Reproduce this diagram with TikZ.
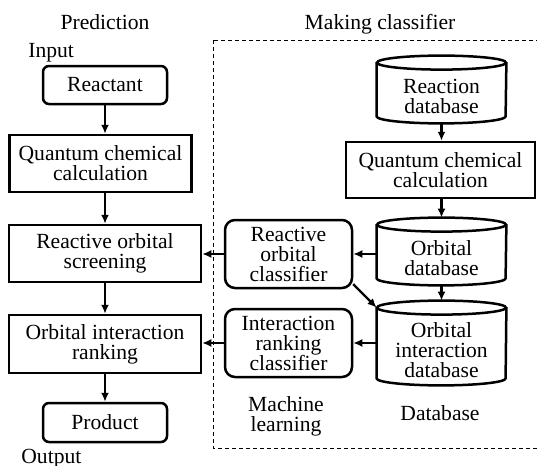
\documentclass[tikz,border=0pt]{standalone}
\usepackage{fontspec}
\setmainfont{Liberation Serif}[Ligatures=TeX]
\usetikzlibrary{arrows.meta}
\begin{document}
\begin{tikzpicture}[x=0.5pt,y=-0.5pt,
  every node/.style={font=\rmfamily\fontsize{10.8}{10}\selectfont, inner sep=0pt, align=center},
  sqbox/.style={draw, line width=1.25pt},
  rbox/.style={draw, line width=1.25pt, rounded corners=3pt},
  rrbox/.style={draw, line width=1.25pt, rounded corners=5pt},
  cylbody/.style={minimum width=64.5pt},
  cylline/.style={line width=1.25pt},
  arr/.style={line width=1.2pt, -{Latex[length=4.5pt,width=4pt]}},
  frame/.style={line width=0.5pt, dash pattern=on 2pt off 1.5pt}
]
\useasboundingbox (0,0) rectangle (537,466);
\clip (0,0) rectangle (537,466);

% dashed frame
\draw[frame] (213,40) rectangle (560,448);

% titles and labels
\node[anchor=base] (tpred) at (105,29) {Prediction};
\node[anchor=base] (tmake) at (380,29) {Making classifier};
\node[anchor=base west] (tin) at (28,57) {Input};
\node[anchor=base west] (tout) at (21,463) {Output};
\node (tml) at (286,416) {Machine\\learning};
\node[anchor=base] (tdb) at (440,420) {Database};

% left column
\node[rbox, minimum width=62pt, minimum height=19pt] (reac) at (105,85) {Reactant};
\node[sqbox, minimum width=91pt, minimum height=28.5pt] (qccl) at (100.5,163.5) {Quantum chemical\\calculation};
\node[sqbox, minimum width=96pt, minimum height=28.5pt] (scr) at (105,253.5) {Reactive orbital\\screening};
\node[sqbox, minimum width=96pt, minimum height=29pt] (rank) at (105,344) {Orbital interaction\\ranking};
\node[rbox, minimum width=62pt, minimum height=19.5pt] (prod) at (105,422.5) {Product};

% right column
\node[cylbody, minimum height=26.5pt] (rdb) at (441.5,96.5) {Reaction\\database};
\node[sqbox, minimum width=94.5pt, minimum height=28pt] (qccr) at (440.5,170) {Quantum chemical\\calculation};
\node[cylbody, minimum height=26.5pt] (odb) at (441.5,258.5) {Orbital\\database};
\node[cylbody, minimum height=35pt] (oidb) at (441.5,350) {Orbital\\interaction\\database};
\node[rrbox, minimum width=63.5pt, minimum height=34pt] (roc) at (288.5,254) {Reactive\\orbital\\classifier};
\node[rrbox, minimum width=63.5pt, minimum height=34pt] (irc) at (288.5,343) {Interaction\\ranking\\classifier};

% cylinders
\foreach \n in {rdb,odb,oidb}{
  \draw[cylline] ([yshift=3.5pt]\n.north) ellipse [x radius=32.25pt, y radius=3.5pt];
  \draw[cylline] ([yshift=3.5pt]\n.north west) -- ([yshift=3.5pt]\n.south west)
     arc[start angle=180, end angle=360, x radius=32.25pt, y radius=3.5pt]
     -- ([yshift=3.5pt]\n.north east);
}

% left arrows
\draw[arr] (reac.south) -- (reac.south |- qccl.north);
\draw[arr] (reac.south |- qccl.south) -- (scr.north);
\draw[arr] (scr.south) -- (rank.north);
\draw[arr] (rank.south) -- (prod.north);

% right arrows
\draw[arr] (rdb.south) -- (rdb.south |- qccr.north);
\draw[arr] (rdb.south |- qccr.south) -- ([yshift=7pt]odb.north);
\draw[arr] (odb.south) -- ([yshift=7pt]oidb.north);
\draw[arr] (odb.west |- roc.east) -- (roc.east);
\draw[arr] (oidb.west |- irc.east) -- (irc.east);
\draw[arr] (roc.-25) -- ([yshift=3.5pt]oidb.north west);
\draw[arr] (roc.west) -- (roc.west -| scr.east);
\draw[arr] (irc.west) -- (irc.west -| rank.east);
\end{tikzpicture}
\end{document}
